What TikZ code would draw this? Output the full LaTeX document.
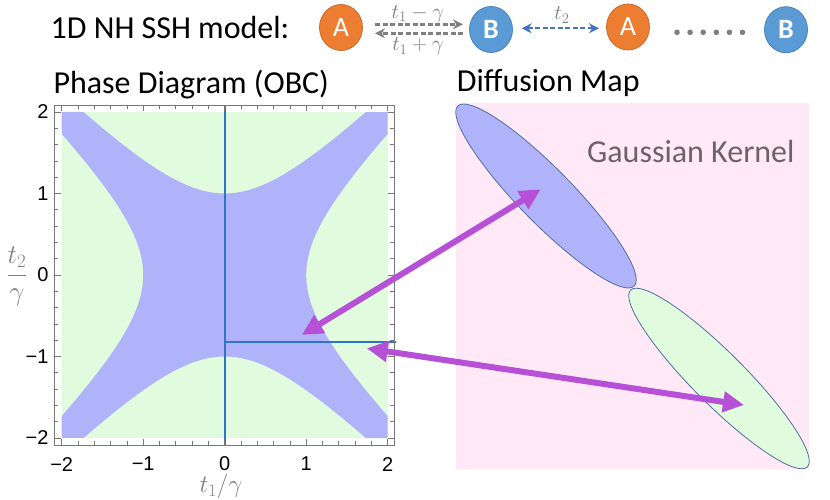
\documentclass[tikz,border=0pt]{standalone}
\usepackage{fix-cm}
\usepackage{fontspec}
\setmainfont{Carlito}
\newfontfamily\arialf{Liberation Sans}
\usetikzlibrary{arrows.meta,shapes.geometric}
\definecolor{orA}{RGB}{237,125,49}
\definecolor{orAd}{RGB}{205,105,40}
\definecolor{blB}{RGB}{91,155,213}
\definecolor{blBd}{RGB}{70,130,190}
\definecolor{greenf}{RGB}{224,251,222}
\definecolor{bluef}{RGB}{176,179,250}
\definecolor{pinkf}{RGB}{255,233,246}
\definecolor{magc}{RGB}{182,80,214}
\definecolor{ellc}{RGB}{80,110,160}
\definecolor{linec}{RGB}{46,117,200}
\definecolor{grayt}{RGB}{128,128,128}
\definecolor{grayk}{RGB}{108,98,104}
\definecolor{framec}{RGB}{120,120,120}
\definecolor{dashb}{RGB}{68,114,196}
\tikzset{
  site/.style={ellipse, minimum width=43, minimum height=46, inner sep=0, text=white,
    font=\fontsize{28}{30}\selectfont, line width=0.8},
  siteA/.style={site, fill=orA, draw=orAd},
  siteB/.style={site, fill=blB, draw=blBd},
  hop/.style={draw=grayt, line width=2.6, dash pattern=on 5 off 2.5, -{Stealth[length=10,width=10]}},
  hopb/.style={draw=dashb, line width=2, dash pattern=on 5 off 2.5, {Stealth[length=10,width=10]}-{Stealth[length=10,width=10]}},
  hoplab/.style={text=grayt, font=\fontsize{21}{24}\selectfont, inner sep=0},
  title/.style={anchor=base west, inner sep=0, font=\fontsize{32}{38}\selectfont},
  tickc/.style={draw=framec, line width=0.7},
  ticklab/.style={font=\arialf\fontsize{20}{22}\selectfont, inner sep=0},
  clust/.style={ellipse, inner sep=0, draw=ellc, line width=0.8},
  maparrow/.style={draw=magc, line width=6, {Triangle[length=21,width=20]}-{Triangle[length=21,width=20]}},
}
\begin{document}
\begin{tikzpicture}[x=1pt,y=-1pt]
\useasboundingbox (0,0) rectangle (830,500);
\fill[white] (0,0) rectangle (830,500);

% ---------- top row ----------
\node[title] (model) at (50.5,38.3) {1D NH SSH model:};
\node[siteA] (A1) at (341,27.5) {A};
\node[siteB] (B1) at (491,29.5) {\bfseries B};
\node[siteA] (A2) at (628,27) {A};
\node[siteB] (B2) at (786,29.7) {\bfseries B};
\coordinate (h1s) at (375,24.3);
\coordinate (h1e) at (463,24.3);
\coordinate (h2s) at (463,33.3);
\coordinate (h2e) at (375,33.3);
\draw[hop] (h1s) -- (h1e);
\draw[hop] (h2s) -- (h2e);
\node[hoplab, anchor=base] (lab1) at (418,18.5) {$t_1-\gamma$};
\node[hoplab, anchor=base] (lab2) at (418,51) {$t_1+\gamma$};
\coordinate (b1s) at (521.7,28.3);
\coordinate (b1e) at (599,28.3);
\draw[hopb] (b1s) -- (b1e);
\node[hoplab, anchor=base] (lab3) at (562,20) {$t_2$};
\foreach \k in {0,...,5}{
  \fill[grayt] (677+13.1*\k,32.3) circle (2.8);
}

% ---------- titles ----------
\node[title] (pd) at (53.3,93.3) {Phase Diagram (OBC)};
\node[title] (dm) at (456.7,91.7) {Diffusion Map};

% ---------- phase diagram ----------
\begin{scope}[shift={(224.7,275)}, x=81.5pt, y=81.5pt]
  \fill[greenf] (-2,-2) rectangle (2,2);
  \fill[bluef] (-2,2) -- (-1.7321,2)
     -- plot[domain=-1.7321:1.7321, samples=80] (\x,{sqrt(1+\x*\x)})
     -- (2,2) -- (2,1.7321)
     -- plot[domain=1.7321:-1.7321, samples=80] ({sqrt(1+\x*\x)},\x)
     -- (2,-2) -- (1.7321,-2)
     -- plot[domain=1.7321:-1.7321, samples=80] (\x,{-sqrt(1+\x*\x)})
     -- (-2,-2) -- (-2,-1.7321)
     -- plot[domain=-1.7321:1.7321, samples=80] ({-sqrt(1+\x*\x)},\x)
     -- cycle;
  \draw[linec, line width=2] (0,2.087) -- (0,-2.087);
  \draw[linec, line width=2] (0,-0.826) -- (2.105,-0.826);
  \draw[framec, line width=0.8] (-2.09,-2.087) rectangle (2.083,2.087);
  \foreach \i in {-10,...,10}{
    \pgfmathsetmacro\t{\i/5}
    \pgfmathsetmacro\L{ifthenelse(mod(\i,5)==0,0.08,0.05)}
    \draw[tickc] (\t,-2.087) -- ++(0,\L);
    \draw[tickc] (\t,2.087) -- ++(0,-\L);
    \draw[tickc] (-2.09,\t) -- ++(\L,0);
    \draw[tickc] (2.083,\t) -- ++(-\L,0);
  }
  \foreach \v/\s in {-2/{−2},-1/{−1},0/0,1/1,2/2}{
    \node[ticklab] at (\v,-2.32) {\s};
    \node[ticklab, anchor=east] at (-2.16,\v) {\s};
  }
  \coordinate (p1) at (0.946,-0.736);
  \coordinate (p2) at (1.743,-0.9);
\end{scope}
\node[text=grayt, font=\fontsize{25}{28}\selectfont, inner sep=0, anchor=base] (xlab) at (221,492.5) {$t_1/\gamma$};
\node[text=grayt, font=\fontsize{27}{30}\selectfont, inner sep=0] (ylab) at (17,276) {$\displaystyle\frac{t_2}{\gamma}$};

% ---------- diffusion map ----------
\fill[pinkf] (456,103) rectangle (809,469);
\node[title, text=grayk] (gk) at (587,162.7) {Gaussian Kernel};
\node[clust, fill=bluef, minimum width=252, minimum height=54, rotate=-45.6] (E1) at (546,196) {};
\node[clust, fill=greenf, minimum width=250, minimum height=52, rotate=-45] (E2) at (719,378.5) {};
\coordinate (q1) at (540.7,189.3);
\coordinate (q2) at (744,405);

% ---------- arrows ----------
\draw[maparrow] (p1) -- (q1);
\draw[maparrow] (p2) -- (q2);
\end{tikzpicture}
\end{document}
